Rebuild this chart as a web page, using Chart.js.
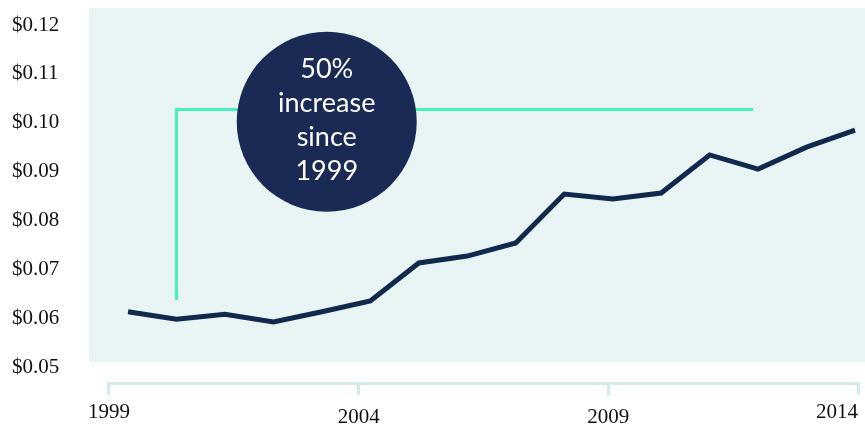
<!DOCTYPE html>
<html>
<head>
<meta charset="utf-8">
<script src="https://cdn.jsdelivr.net/npm/chart.js@4.4.1/dist/chart.umd.min.js"></script>
<style>
html, body { margin: 0; padding: 0; background: #fff; }
#wrap { width: 865px; height: 430px; }
</style>
</head>
<body>
<div id="wrap"><canvas id="costChart" width="865" height="430"></canvas></div>
<script>
// yearly cost
const years = [1999, 2000, 2001, 2002, 2003, 2004, 2005, 2006, 2007, 2008, 2009, 2010, 2011, 2012, 2013, 2014];
const costs = [0.0613, 0.0598, 0.0608, 0.0592, 0.0613, 0.0635, 0.0713, 0.0727, 0.0754, 0.0854, 0.0844, 0.0856, 0.0934, 0.0905, 0.0950, 0.0985];

const yTicks = [0.05, 0.06, 0.07, 0.08, 0.09, 0.10, 0.11, 0.12];
const xTickYears = [1999, 2004, 2009, 2014];

// green bracket + callout bubble
const bracketX = [2000, 2000, 2011.9];
const bracketY = [0.0637, 0.1027, 0.1027];
const calloutX = 2003.1;
const calloutY = 0.1002;
const calloutLines = ["50%", "increase", "since", "1999"];

const navy = "#10294d";
const bubble = "#1a2a54";
const mint = "#48f0c0";
const shade = "#e9f5f5";
const axisBlue = "#d4ebee";
const serif = "'Liberation Serif', 'Times New Roman', serif";

const backdrop = {
  id: "backdrop",
  beforeDraw(chart) {
    const {ctx, chartArea} = chart;
    const y = chart.scales.y;
    ctx.save();
    ctx.fillStyle = shade;
    ctx.fillRect(chartArea.left, chartArea.top, chartArea.right - chartArea.left,
      y.getPixelForValue(0.051) - chartArea.top);
    ctx.restore();
  },
  afterDraw(chart) {
    // bracket-style axis line between first and last year tick
    const {ctx} = chart;
    const x2 = chart.scales.x2;
    const a = x2.getPixelForValue(xTickYears[0]) - 1.5;
    const b = x2.getPixelForValue(xTickYears[xTickYears.length - 1]) + 1.5;
    ctx.save();
    ctx.strokeStyle = axisBlue;
    ctx.lineWidth = 3;
    ctx.beginPath();
    ctx.moveTo(a, x2.top + 1.5);
    ctx.lineTo(b, x2.top + 1.5);
    ctx.stroke();
    ctx.restore();
  }
};

const calloutText = {
  id: "calloutText",
  afterDatasetsDraw(chart) {
    const pt = chart.getDatasetMeta(0).data[0];
    const {ctx} = chart;
    ctx.save();
    ctx.fillStyle = "#ffffff";
    ctx.font = "27px Lato, 'Open Sans', sans-serif";
    ctx.textAlign = "center";
    ctx.textBaseline = "alphabetic";
    calloutLines.forEach((line, i) => {
      ctx.fillText(line, pt.x, pt.y - 43.5 + i * 34);
    });
    ctx.restore();
  }
};

new Chart(document.getElementById("costChart"), {
  type: "line",
  data: {
    datasets: [
      {
        label: "callout",
        data: [{x: calloutX, y: calloutY}],
        showLine: false,
        pointRadius: 90,
        pointHoverRadius: 90,
        pointBackgroundColor: bubble,
        pointBorderWidth: 0,
        order: 0
      },
      {
        label: "bracket",
        data: bracketX.map((x, i) => ({x: x, y: bracketY[i]})),
        borderColor: mint,
        borderWidth: 3,
        borderJoinStyle: "miter",
        pointRadius: 0,
        order: 1
      },
      {
        label: "Cost",
        data: years.map((yr, i) => ({x: yr, y: costs[i]})),
        borderColor: navy,
        borderWidth: 5,
        borderJoinStyle: "miter",
        tension: 0,
        pointRadius: 0,
        order: 2
      }
    ]
  },
  options: {
    responsive: false,
    animation: false,
    events: [],
    layout: {autoPadding: false, padding: {left: 12, top: 8, right: 0, bottom: 0}},
    plugins: {legend: {display: false}, tooltip: {enabled: false}},
    scales: {
      x: {
        type: "linear",
        display: false,
        min: 1998.195,
        max: 2014.206
      },
      x2: {
        type: "linear",
        position: "bottom",
        min: 1998.6,
        max: 2014.14,
        afterBuildTicks(scale) {
          scale.ticks = [{value: scale.min}].concat(xTickYears.map(v => ({value: v})));
        },
        afterFit(scale) {
          scale.height = 48;
          scale.paddingLeft = 0;
          scale.paddingRight = 0;
        },
        border: {display: false},
        grid: {
          drawOnChartArea: false,
          drawTicks: true,
          tickLength: 13,
          tickWidth: 3,
          tickColor: ctx => ctx.index === 0 ? "rgba(0,0,0,0)" : axisBlue
        },
        ticks: {
          autoSkip: false,
          maxRotation: 0,
          align: "inner",
          padding: 5,
          color: "#111",
          font: ctx => {
            const i = ctx.index;
            const mid = i > 1 && i < xTickYears.length;
            return {family: serif, size: 21, lineHeight: mid ? 1.68 : 1.2};
          },
          callback: (v, i) => i === 0 ? "" : String(v)
        }
      },
      y: {
        type: "linear",
        min: 0.04693,
        max: 0.12348,
        afterBuildTicks(scale) {
          scale.ticks = yTicks.map(v => ({value: v}));
        },
        afterFit(scale) {
          scale.width = 77;
          scale.paddingTop = 0;
          scale.paddingBottom = 0;
        },
        border: {display: false},
        grid: {display: false},
        ticks: {
          crossAlign: "far",
          color: "#111",
          font: {family: serif, size: 21},
          callback: v => "$" + v.toFixed(2)
        }
      }
    }
  },
  plugins: [backdrop, calloutText]
});
</script>
</body>
</html>
